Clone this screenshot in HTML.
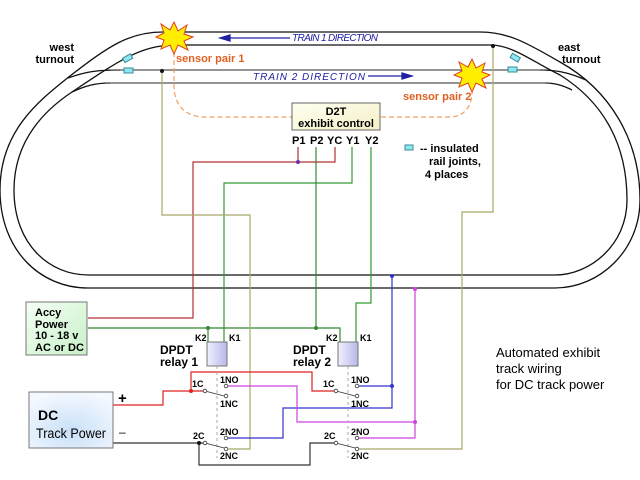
<!DOCTYPE html>
<html><head><meta charset="utf-8"><style>
html,body{margin:0;padding:0;background:#fff}
svg{display:block}
text{font-family:"Liberation Sans",sans-serif}
.b{font-weight:bold}
</style></head><body>
<svg width="640" height="480" viewBox="0 0 640 480" xmlns="http://www.w3.org/2000/svg">
<defs>
<linearGradient id="gy" x1="0" y1="0" x2="1" y2="1"><stop offset="0" stop-color="#fffff0"/><stop offset="1" stop-color="#f4f0c8"/></linearGradient>
<linearGradient id="gg" x1="0" y1="0" x2="1" y2="1"><stop offset="0" stop-color="#f4fff4"/><stop offset="1" stop-color="#c8f0c8"/></linearGradient>
<radialGradient id="gb" cx="0.5" cy="0.7" r="0.7"><stop offset="0" stop-color="#c8e0f8"/><stop offset="1" stop-color="#f4f8ff"/></radialGradient>
<linearGradient id="gr" x1="0" y1="0" x2="1" y2="0"><stop offset="0" stop-color="#f0f0ff"/><stop offset="1" stop-color="#b8b8e8"/></linearGradient>
</defs>
<g fill="none" stroke="#111" stroke-width="1.3">
<path d="M163,32 L480,32 C510,32 530,45 560,62 C610,90 640,140 640,200 C640,250 600,288 555,288 L88,288 C40,288 0,250 0,190 C0,130 40,100 70,76 C110,45 130,32 163,32"/>
<path d="M173,45 L493,45 C515,47 530,60 560,75 C600,100 627,140 627,200 C627,245 590,275 555,275 L88,275 C50,275 14,245 14,190 C14,140 45,110 72,92 C120,60 140,46 173,45"/>
<path d="M120,70 C95,70 85,72 68,78"/>
<path d="M110,83 C95,83 85,86 72,92"/>
<path d="M540,70 C560,70 572,74 586,80"/>
<path d="M545,83 C556,83 564,86 572,90"/>
</g>
<g stroke="#555" stroke-width="1.2">
<line x1="110" y1="70" x2="545" y2="70"/>
<line x1="105" y1="83" x2="550" y2="83"/>
</g>
<g fill="#8ee8f0" stroke="#3a8a9a" stroke-width="1">
<rect x="123" y="56" width="9" height="5" transform="rotate(-30 127 58)"/>
<rect x="124" y="68" width="9" height="5"/>
<rect x="511" y="55" width="9" height="5" transform="rotate(30 515 57)"/>
<rect x="508" y="67" width="9" height="5"/>
<rect x="405" y="145" width="8" height="5"/>
</g>
<g stroke="#2020a0" stroke-width="1.3" fill="#2020a0">
<line x1="226" y1="38" x2="290" y2="38"/><path d="M220,38 L230,35 L230,41Z"/>
<line x1="368" y1="76" x2="404" y2="76"/><path d="M412,76 L402,73 L402,79Z"/>
</g>
<text x="292" y="41" font-size="10" font-style="italic" fill="#2020a0" textLength="86">TRAIN 1 DIRECTION</text>
<text x="253" y="80" font-size="10" font-style="italic" fill="#2020a0" textLength="112">TRAIN 2 DIRECTION</text>
<g fill="none" stroke="#f0a060" stroke-width="1.2" stroke-dasharray="5,3">
<path d="M174,52 L174,85 C174,108 188,117 205,117 L292,117"/>
<path d="M381,117 L450,117 C465,117 472,105 472,92"/>
</g>
<path d="M174,22 L178,31 L187,25 L184,34 L193,37 L184,41 L188,50 L178,45 L174,54 L170,45 L161,49 L164,40 L156,37 L164,33 L161,24 L170,30Z" fill="#ffee00" stroke="#e04020" stroke-width="1"/>
<path d="M472,59 L476,68 L485,63 L482,72 L490,75 L482,79 L486,88 L476,83 L472,92 L468,83 L459,87 L462,78 L454,75 L462,71 L459,62 L468,67Z" fill="#ffee00" stroke="#e04020" stroke-width="1"/>
<text x="176" y="62" font-size="11" class="b" fill="#e06020">sensor pair 1</text>
<text x="403" y="100" font-size="11" class="b" fill="#e06020">sensor pair 2</text>
<text x="74" y="51" font-size="11" class="b" text-anchor="end">west</text>
<text x="74" y="63" font-size="11" class="b" text-anchor="end">turnout</text>
<text x="558" y="51" font-size="11" class="b">east</text>
<text x="562" y="63" font-size="11" class="b">turnout</text>
<text x="420" y="152" font-size="11" class="b">-- insulated</text>
<text x="429" y="165" font-size="11" class="b">rail joints,</text>
<text x="425" y="178" font-size="11" class="b">4 places</text>
<rect x="292" y="103" width="88" height="27" fill="url(#gy)" stroke="#666" stroke-width="1"/>
<text x="336" y="115" font-size="11" class="b" text-anchor="middle">D2T</text>
<text x="336" y="127" font-size="11" class="b" text-anchor="middle">exhibit control</text>
<g font-size="11" class="b"><text x="292" y="144">P1</text><text x="310" y="144">P2</text><text x="327" y="144">YC</text><text x="346" y="144">Y1</text><text x="365" y="144">Y2</text></g>
<g fill="none" stroke-width="1.2">
<polyline stroke="#b03030" points="298,147 298,162"/>
<polyline stroke="#b03030" points="335,147 335,162 193,162 193,318 88,318"/>
<polyline stroke="#339933" points="352,147 352,183 224,183 224,342"/>
<polyline stroke="#338833" points="316,147 316,328"/>
<polyline stroke="#338833" points="88,328 340,328 340,342"/>
<polyline stroke="#338833" points="208,328 208,342"/>
<polyline stroke="#339933" points="371,147 371,303 356,303 356,342"/>
<polyline stroke="#a8a868" points="162,71 162,215 250,215 250,449 226,449"/>
<polyline stroke="#a8a868" points="493,46 493,212 462,212 462,449 357,449"/>
<polyline stroke="#3333cc" points="392,276 392,408 283,408 283,438 228,438"/>
<polyline stroke="#3333cc" points="359,386 392,386"/>
<polyline stroke="#cc44dd" points="415,289 415,438 359,438"/>
<polyline stroke="#cc44dd" points="415,422 297,422 297,386 228,386"/>
<polyline stroke="#dd2222" points="113,405 163,405 163,391 205,391"/>
<polyline stroke="#dd2222" points="191,391 191,372 312,372 312,391 336,391"/>
<polyline stroke="#333" points="113,443 205,443"/>
<polyline stroke="#333" points="199,443 199,465 310,465 310,443 336,443"/>
</g>
<g>
<circle cx="162" cy="71" r="2" fill="#111"/><circle cx="493" cy="46" r="2" fill="#111"/>
<circle cx="298" cy="162" r="2" fill="#6633aa"/>
<circle cx="208" cy="328" r="2" fill="#338833"/><circle cx="316" cy="328" r="2" fill="#338833"/>
<circle cx="392" cy="276" r="2" fill="#3333cc"/><circle cx="392" cy="386" r="2" fill="#3333cc"/>
<circle cx="415" cy="289" r="2" fill="#cc44dd"/><circle cx="415" cy="422" r="2" fill="#cc44dd"/>
<circle cx="191" cy="391" r="2" fill="#dd2222"/><circle cx="199" cy="443" r="2" fill="#111"/>
</g>
<rect x="26" y="302" width="61" height="53" fill="url(#gg)" stroke="#777"/>
<g font-size="11" class="b"><text x="35" y="316">Accy</text><text x="35" y="328">Power</text><text x="35" y="339">10 - 18 v</text><text x="35" y="351">AC or DC</text></g>
<rect x="29" y="392" width="84" height="56" fill="url(#gb)" stroke="#777"/>
<text x="38" y="420" font-size="14" class="b">DC</text>
<text x="36" y="438" font-size="14" textLength="70" lengthAdjust="spacingAndGlyphs">Track Power</text>
<text x="118" y="403" font-size="15" class="b">+</text>
<text x="119" y="436" font-size="12">–</text>
<g id="r1">
<rect x="207" y="342" width="20" height="24" fill="url(#gr)" stroke="#777"/>
<line x1="217" y1="366" x2="217" y2="458" stroke="#aaa" stroke-dasharray="3,3"/>
<g fill="#fff" stroke="#333" stroke-width="0.8">
<line x1="205" y1="391" x2="228" y2="397"/><line x1="205" y1="443" x2="228" y2="449"/>
<circle cx="205" cy="391" r="1.8"/><circle cx="226" cy="386" r="1.8"/><circle cx="226" cy="396" r="1.8"/>
<circle cx="205" cy="443" r="1.8"/><circle cx="226" cy="438" r="1.8"/><circle cx="226" cy="449" r="1.8"/>
</g>
<g font-size="9" class="b"><text x="195" y="341">K2</text><text x="229" y="341">K1</text>
<text x="192" y="387">1C</text><text x="220" y="383">1NO</text><text x="220" y="407">1NC</text>
<text x="193" y="439">2C</text><text x="220" y="435">2NO</text><text x="220" y="459">2NC</text></g>
</g>
<use href="#r1" transform="translate(131,0)"/>
<g font-size="12" class="b"><text x="160" y="354">DPDT</text><text x="160" y="366">relay 1</text>
<text x="293" y="354">DPDT</text><text x="293" y="366">relay 2</text></g>
<g font-size="13"><text x="496" y="357">Automated exhibit</text><text x="496" y="373">track wiring</text><text x="496" y="389">for DC track power</text></g>
</svg>
</body></html>
